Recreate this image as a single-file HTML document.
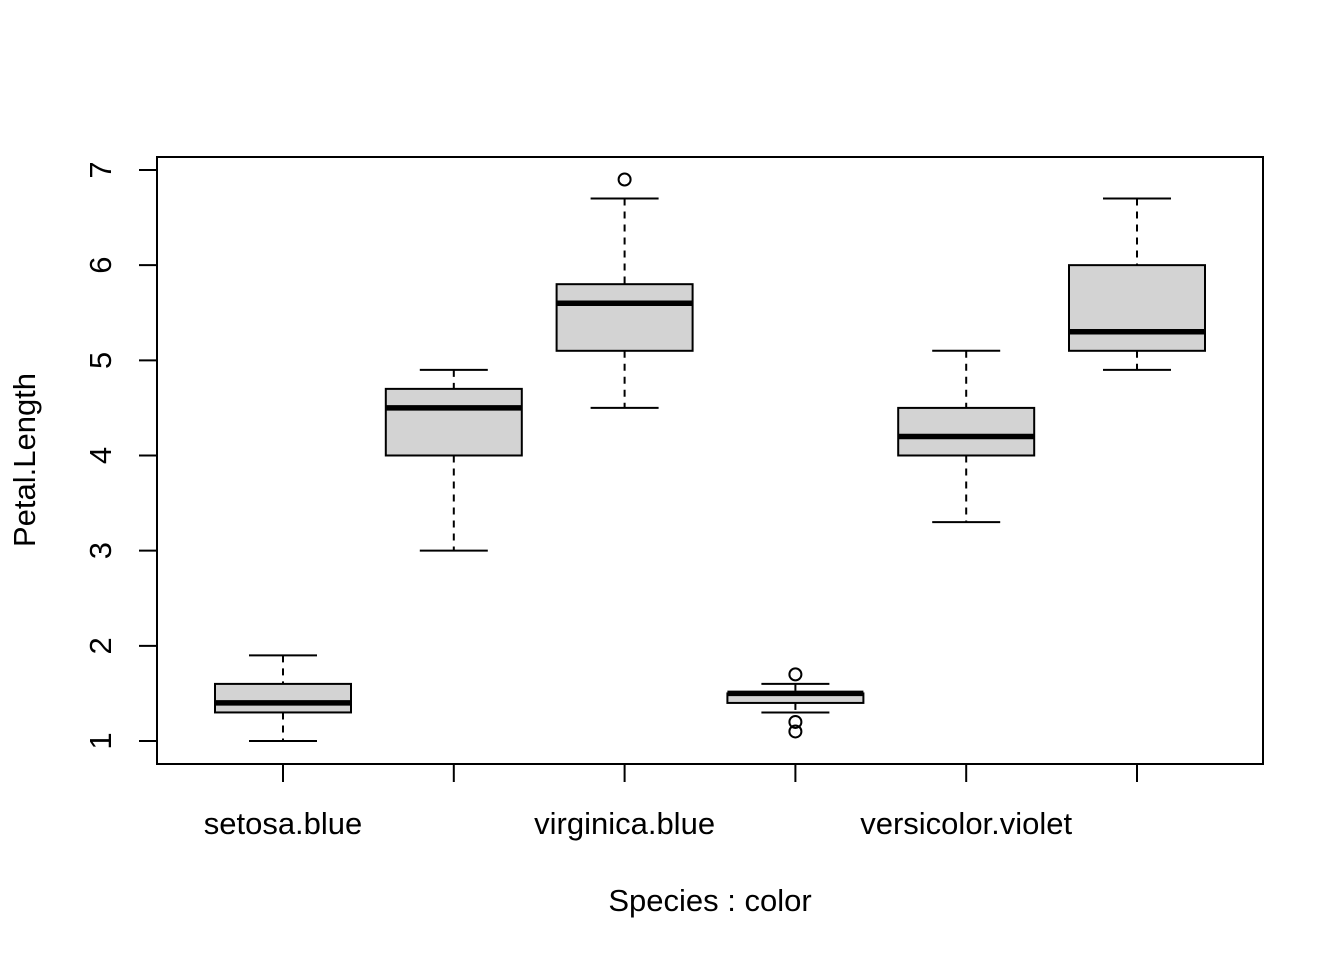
<!DOCTYPE html>
<html><head><meta charset="utf-8"><style>
body{margin:0;background:#fff}
svg{display:block;font-family:"Liberation Sans",Arial,sans-serif}
</style></head><body>
<svg id="chart" width="1344" height="960" xmlns="http://www.w3.org/2000/svg">
<rect x="0" y="0" width="1344" height="960" fill="#fff"/>
<rect x="157" y="157" width="1106" height="607" fill="none" stroke="#000" stroke-width="2"/>
<text x="710" y="911" font-size="31" text-anchor="middle">Species : color</text>
<text transform="translate(35,460) rotate(-90)" font-size="31" text-anchor="middle">Petal.Length</text>
<g id="g"></g>
</svg>
<script>
const categories=["setosa.blue","versicolor.blue","virginica.blue","setosa.violet","versicolor.violet","virginica.violet"];
const shownLabels=["setosa.blue","","virginica.blue","","versicolor.violet",""];
const lowWhisker=[1.0,3.0,4.5,1.3,3.3,4.9];
const q1=[1.3,4.0,5.1,1.4,4.0,5.1];
const median=[1.4,4.5,5.6,1.5,4.2,5.3];
const q3=[1.6,4.7,5.8,1.5,4.5,6.0];
const highWhisker=[1.9,4.9,6.7,1.6,5.1,6.7];
const outliers=[[],[],[6.9],[1.7,1.2,1.1],[],[]];
const yTicks=[1,2,3,4,5,6,7];
const ns="http://www.w3.org/2000/svg";
const g=document.getElementById('g');
function y(v){return 741-(v-1)*95.17;}
function x(i){return 283+i*170.8;}
function mk(t,a,p){const e=document.createElementNS(ns,t);for(const k in a)e.setAttribute(k,a[k]);(p||g).appendChild(e);return e;}
yTicks.forEach(v=>{
 const t=mk('line',{x1:139,x2:157,y1:y(v),y2:y(v),stroke:'#000','stroke-width':2});
 
 
 const l=mk('text',{transform:`translate(111,${y(v)}) rotate(-90)`,'font-size':31,'text-anchor':'middle'});
 l.textContent=v;
 
 
});
categories.forEach((c,i)=>{
 const cx=x(i),hw=68,cw=34;
 const grp=mk('g',{});
 
 
 mk('line',{x1:cx,x2:cx,y1:y(highWhisker[i]),y2:y(q3[i]),stroke:'#000','stroke-width':2,'stroke-dasharray':'7,6'},grp);
 mk('line',{x1:cx,x2:cx,y1:y(q1[i]),y2:y(lowWhisker[i]),stroke:'#000','stroke-width':2,'stroke-dasharray':'7,6'},grp);
 mk('line',{x1:cx-cw,x2:cx+cw,y1:y(highWhisker[i]),y2:y(highWhisker[i]),stroke:'#000','stroke-width':2},grp);
 mk('line',{x1:cx-cw,x2:cx+cw,y1:y(lowWhisker[i]),y2:y(lowWhisker[i]),stroke:'#000','stroke-width':2},grp);
 mk('rect',{x:cx-hw,y:y(q3[i]),width:2*hw,height:Math.max(y(q1[i])-y(q3[i]),0.1),fill:'#d3d3d3',stroke:'#000','stroke-width':2},grp);
 mk('line',{x1:cx-hw,x2:cx+hw,y1:y(median[i]),y2:y(median[i]),stroke:'#000','stroke-width':5.5},grp);
 outliers[i].forEach(o=>{
  const p=mk('circle',{cx:cx,cy:y(o),r:6,fill:'none',stroke:'#000','stroke-width':2},grp);
  
  
 });
 const t=mk('line',{x1:cx,x2:cx,y1:764,y2:782,stroke:'#000','stroke-width':2});
 
 
 if(shownLabels[i]){
  const l=mk('text',{x:cx,y:834,'font-size':31,'text-anchor':'middle'});
  l.textContent=shownLabels[i];
  
  
 }
});
</script>
</body></html>
